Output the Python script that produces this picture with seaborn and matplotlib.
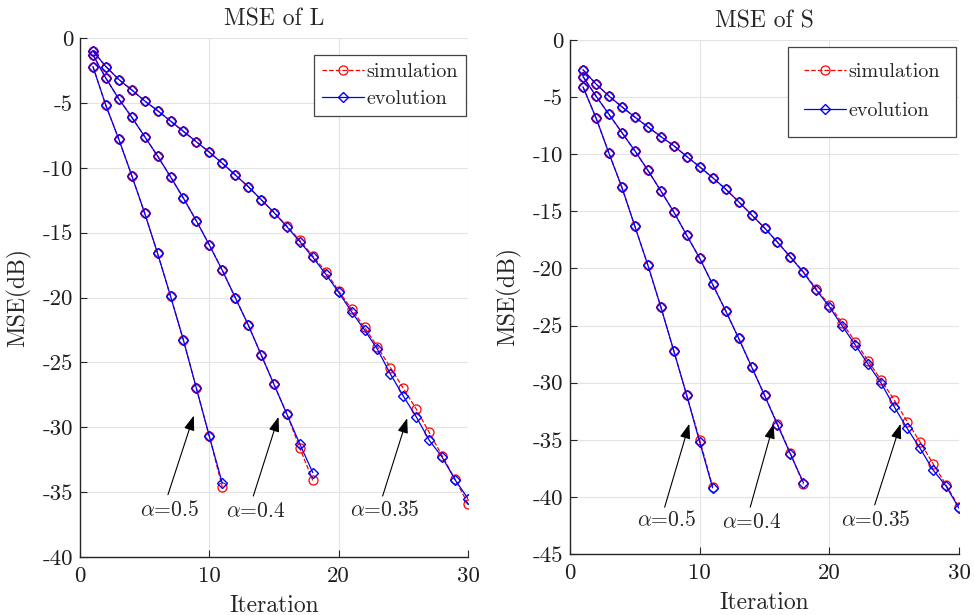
import matplotlib
matplotlib.use("Agg")
import matplotlib.pyplot as plt
import seaborn as sns
import numpy as np
import pandas as pd

# ---------------- data ----------------
iters_05 = list(range(1, 12))
iters_04 = list(range(1, 19))
iters_035 = list(range(1, 31))

# MSE of L
L_evo_05 = [-2.2, -5.2, -7.8, -10.6, -13.5, -16.6, -19.9, -23.3, -27.0, -30.7, -34.3]
L_sim_05 = [-2.2, -5.2, -7.8, -10.6, -13.5, -16.6, -19.9, -23.3, -27.0, -30.7, -34.6]
L_evo_04 = [-1.3, -3.1, -4.7, -6.1, -7.6, -9.1, -10.7, -12.35, -14.1, -15.95,
            -17.9, -20.0, -22.1, -24.4, -26.7, -29.0, -31.3, -33.5]
L_sim_04 = [-1.3, -3.1, -4.7, -6.1, -7.6, -9.1, -10.7, -12.35, -14.1, -15.95,
            -17.9, -20.0, -22.1, -24.4, -26.7, -29.0, -31.6, -34.1]
L_evo_035 = [-1.0, -2.2, -3.2, -4.0, -4.85, -5.6, -6.4, -7.2, -8.0, -8.8,
             -9.65, -10.55, -11.45, -12.45, -13.45, -14.55, -15.7, -16.9, -18.2, -19.6,
             -21.1, -22.5, -24.0, -25.9, -27.6, -29.2, -31.0, -32.3, -34.05, -35.5]
L_sim_035 = [-1.0, -2.2, -3.2, -4.0, -4.85, -5.6, -6.4, -7.2, -8.0, -8.8,
             -9.65, -10.55, -11.45, -12.45, -13.45, -14.5, -15.6, -16.8, -18.0, -19.5,
             -20.9, -22.3, -23.8, -25.4, -27.0, -28.6, -30.4, -32.2, -34.0, -35.9]

# MSE of S
S_evo_05 = [-4.1, -6.8, -9.9, -12.9, -16.3, -19.7, -23.35, -27.2, -31.1, -35.2, -39.2]
S_sim_05 = [-4.1, -6.8, -9.9, -12.9, -16.3, -19.7, -23.35, -27.2, -31.1, -35.0, -39.1]
S_evo_04 = [-3.2, -4.9, -6.5, -8.1, -9.7, -11.4, -13.2, -15.05, -17.1, -19.1,
            -21.4, -23.7, -26.1, -28.6, -31.1, -33.7, -36.25, -38.75]
S_sim_04 = [-3.2, -4.9, -6.5, -8.1, -9.7, -11.4, -13.2, -15.05, -17.1, -19.1,
            -21.4, -23.7, -26.1, -28.6, -31.1, -33.6, -36.2, -38.9]
S_evo_035 = [-2.6, -3.85, -4.9, -5.85, -6.75, -7.6, -8.45, -9.25, -10.2, -11.1,
             -12.05, -13.05, -14.15, -15.3, -16.45, -17.7, -19.0, -20.35, -21.9, -23.35,
             -25.05, -26.7, -28.4, -30.05, -32.1, -34.0, -35.75, -37.65, -39.05, -41.0]
S_sim_035 = [-2.6, -3.85, -4.9, -5.85, -6.75, -7.6, -8.45, -9.25, -10.2, -11.1,
             -12.05, -13.05, -14.15, -15.3, -16.45, -17.7, -19.0, -20.3, -21.8, -23.2,
             -24.8, -26.4, -28.1, -29.8, -31.5, -33.4, -35.2, -37.1, -38.95, -40.9]

alpha_labels = [r"$\alpha$=0.5", r"$\alpha$=0.4", r"$\alpha$=0.35"]
# (text x, text y, arrow tail, arrow head) in data units
L_notes = [(6.9, -36.4, (6.8, -35.2), (8.8, -29.1)),
           (13.6, -36.5, (13.4, -35.3), (15.35, -29.2)),
           (23.6, -36.4, (23.4, -35.3), (25.3, -29.3))]
S_notes = [(7.45, -42.0, (7.3, -40.9), (9.2, -33.6)),
           (14.0, -42.2, (13.9, -40.9), (15.7, -33.6)),
           (23.6, -42.0, (23.5, -40.7), (25.5, -33.6))]

# ---------------- style ----------------
sns.set_style("white")
plt.rcParams["font.family"] = ["cmr10", "DejaVu Serif"]
plt.rcParams["mathtext.fontset"] = "cm"
plt.rcParams["axes.unicode_minus"] = False
plt.rcParams["axes.formatter.use_mathtext"] = False

AX_COLOR = "#262626"


def draw_panel(ax, runs, title, ylim, yticks, notes, legend_spacing, legend_pad, legend_anchor):
    for i, (x, sim, evo) in enumerate(runs):
        sns.lineplot(x=x, y=sim, ax=ax, color="red", linestyle="--", lw=0.9,
                     marker="o", markersize=6.5, markerfacecolor="none",
                     markeredgecolor="red", markeredgewidth=0.9,
                     label="simulation" if i == 0 else None, legend=False)
        sns.lineplot(x=x, y=evo, ax=ax, color="blue", linestyle="-", lw=0.9,
                     marker="D", markersize=5.3, markerfacecolor="none",
                     markeredgecolor="blue", markeredgewidth=1.0,
                     label="evolution" if i == 0 else None, legend=False)

    for lab, (tx, ty, tail, head) in zip(alpha_labels, notes):
        ax.annotate("", xy=head, xytext=tail,
                    arrowprops=dict(arrowstyle="-|>,head_length=0.45,head_width=0.16",
                                    color="black", lw=0.8, mutation_scale=20,
                                    shrinkA=0, shrinkB=0))
        ax.text(tx, ty, lab, fontsize=15.5, ha="center", va="center")

    ax.set_xlim(0, 30)
    ax.set_ylim(*ylim)
    ax.set_xticks([0, 10, 20, 30])
    ax.set_yticks(yticks)
    ax.grid(True, color="#e3e3e3", lw=0.8)
    ax.set_axisbelow(True)
    for s in ["top", "right"]:
        ax.spines[s].set_visible(False)
    for s in ["left", "bottom"]:
        ax.spines[s].set_color(AX_COLOR)
        ax.spines[s].set_linewidth(1.0)
    ax.tick_params(direction="in", length=5, width=0.8, color=AX_COLOR,
                   labelsize=16.5, labelcolor="#1e1e1e", left=True, bottom=True)
    ax.tick_params(axis="x", pad=7)
    ax.tick_params(axis="y", pad=5)
    ax.set_title(title, fontsize=17, pad=9)
    ax.set_xlabel("Iteration", fontsize=17, labelpad=6)
    ax.set_ylabel("MSE(dB)", fontsize=17, labelpad=8)

    leg = ax.legend(loc="upper right", bbox_to_anchor=legend_anchor,
                    borderaxespad=0, fontsize=14.5, frameon=True, fancybox=False,
                    framealpha=1, edgecolor="#444444", handlelength=2.1,
                    handletextpad=0.1, labelspacing=legend_spacing,
                    borderpad=legend_pad)
    leg.get_frame().set_linewidth(0.9)


fig = plt.figure(figsize=(9.74, 6.15), dpi=100)
ax1 = fig.add_axes([80 / 974, 58 / 615, 388 / 974, 519 / 615])
ax2 = fig.add_axes([570 / 974, 61 / 615, 389 / 974, 514 / 615])

draw_panel(ax1,
           [(iters_05, L_sim_05, L_evo_05),
            (iters_04, L_sim_04, L_evo_04),
            (iters_035, L_sim_035, L_evo_035)],
           "MSE of L", (-40, 0), np.arange(-40, 1, 5), L_notes,
           0.45, 0.4, (1 - 2 / 388, 1 - 17 / 519))
draw_panel(ax2,
           [(iters_05, S_sim_05, S_evo_05),
            (iters_04, S_sim_04, S_evo_04),
            (iters_035, S_sim_035, S_evo_035)],
           "MSE of S", (-45, 0), np.arange(-45, 1, 5), S_notes,
           1.05, 0.8, (1 - 3 / 389, 1 - 7 / 514))

fig.savefig("out.png", dpi=100)
